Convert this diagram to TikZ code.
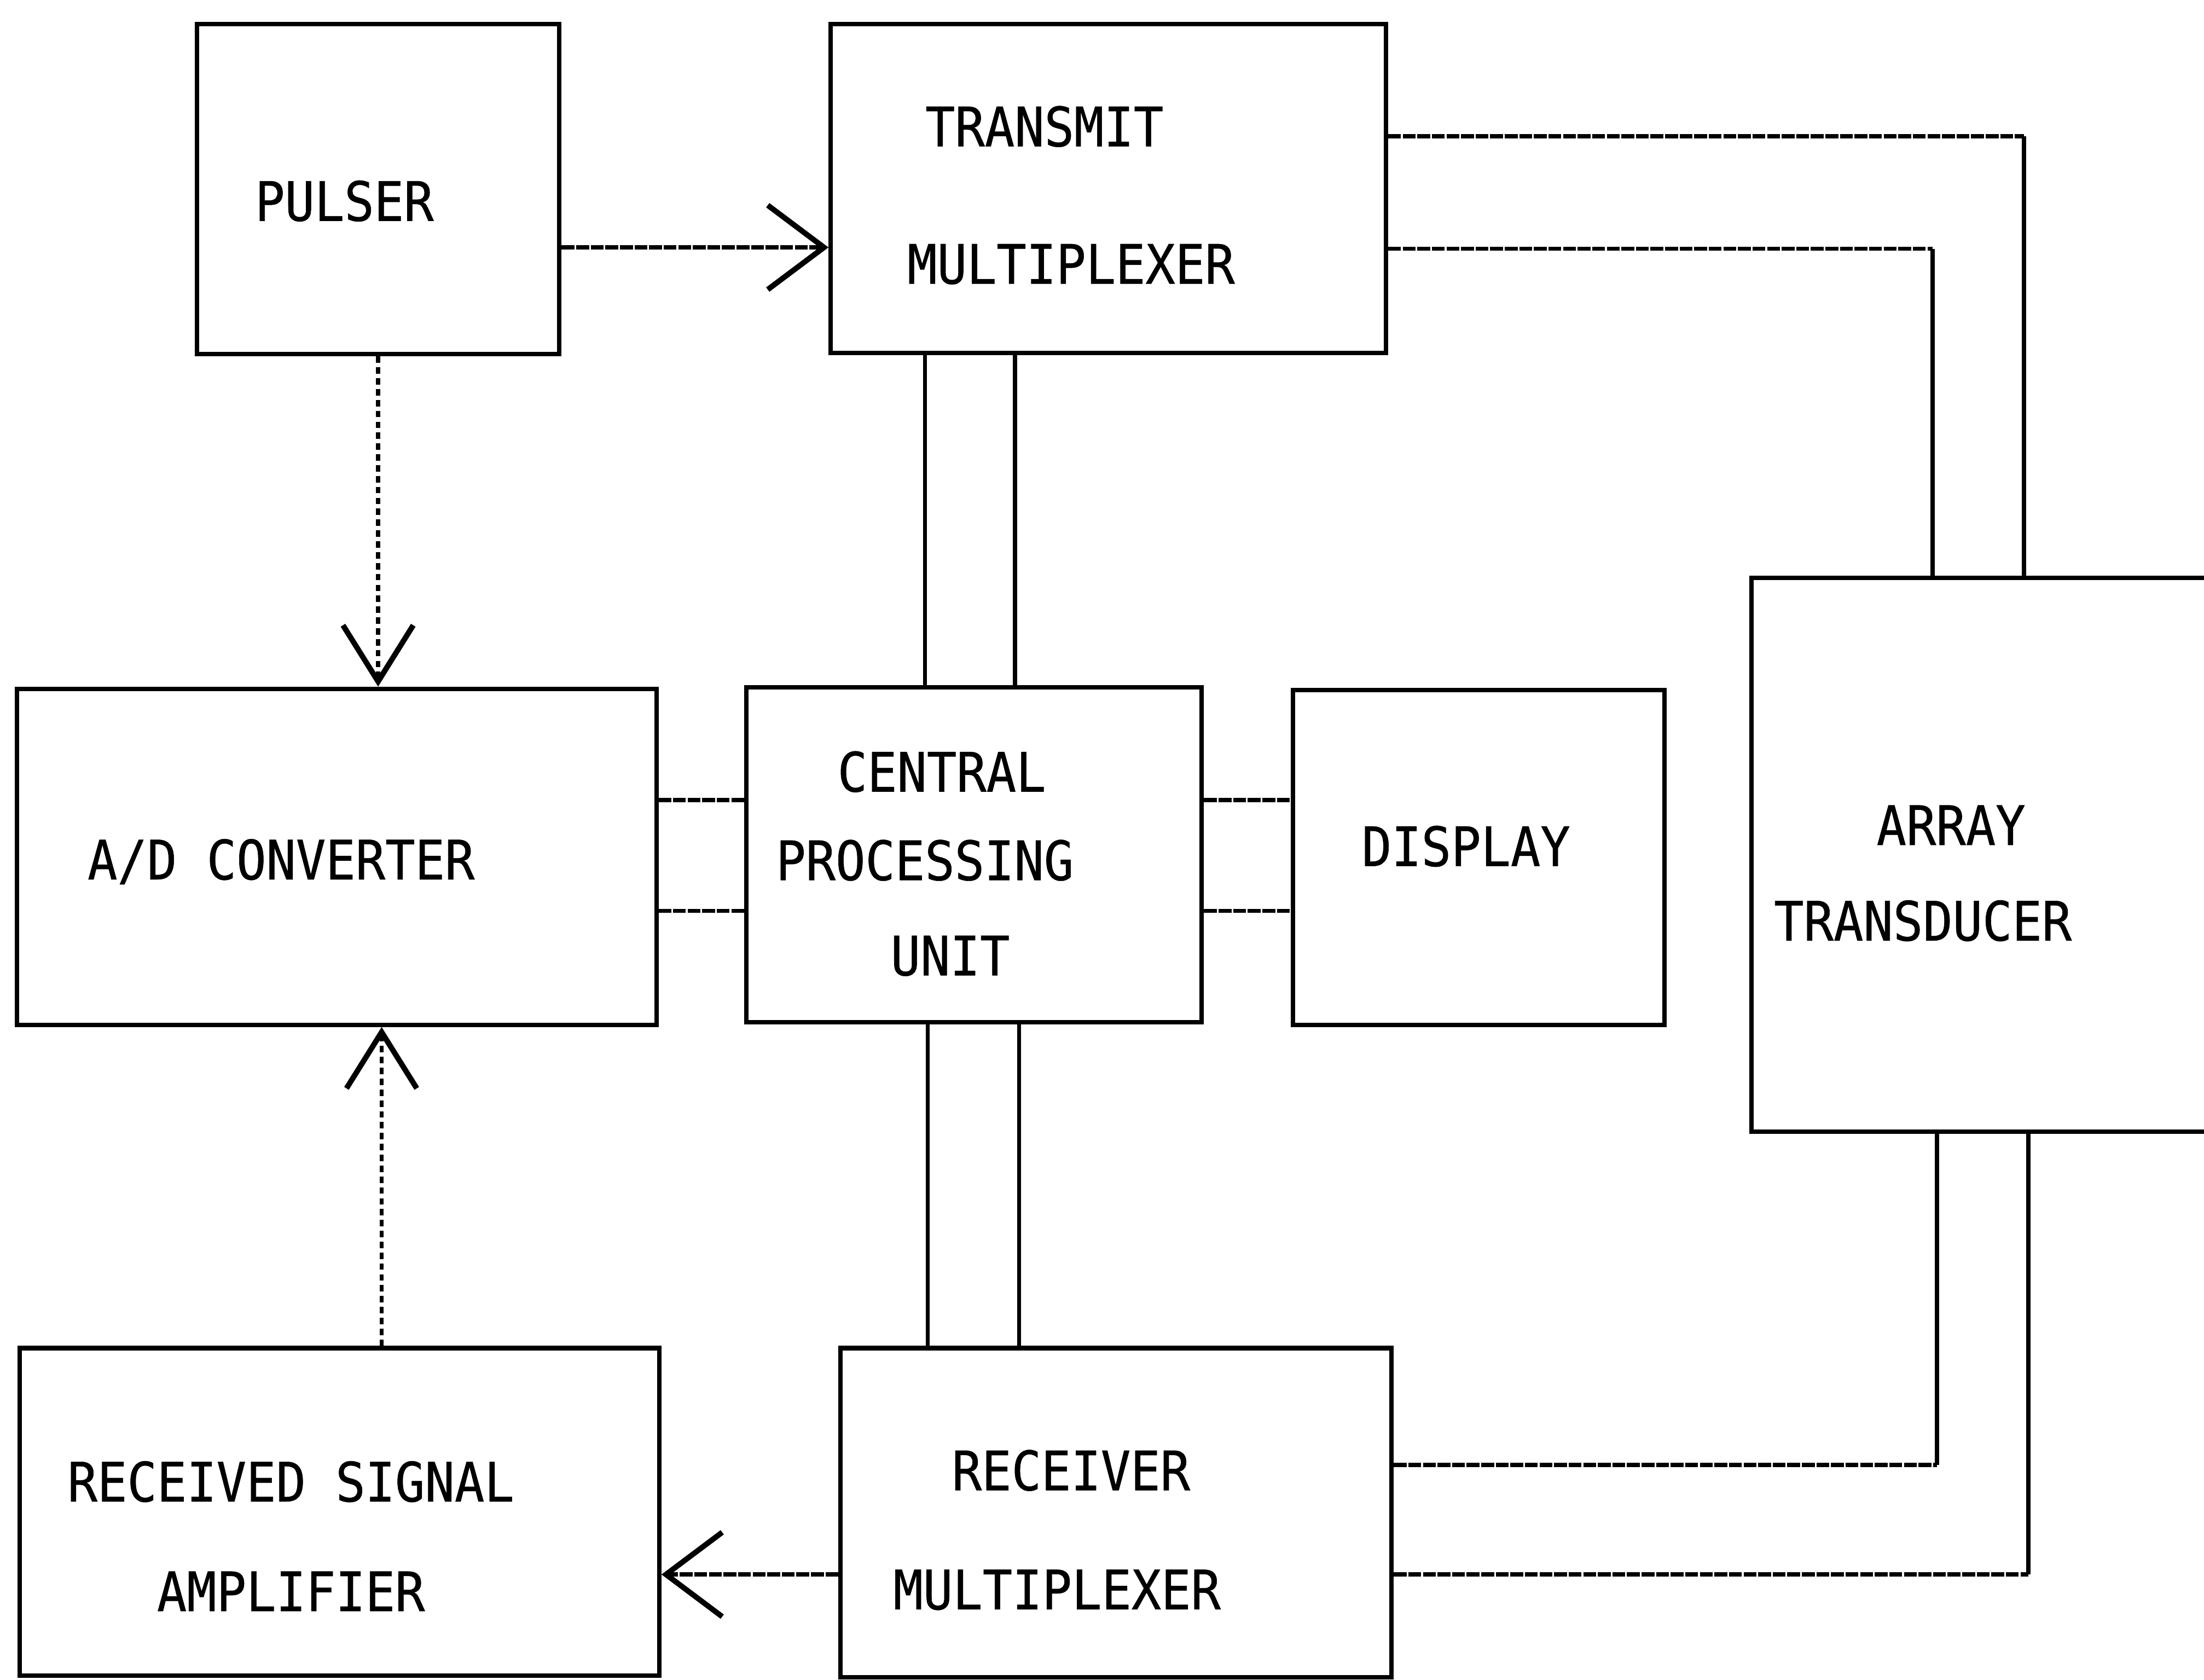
\documentclass[tikz,border=0pt]{standalone}
\usepackage{fontspec}
\newfontfamily\plotfont{DejaVu Sans Mono}[FakeStretch=0.91,FakeBold=0.6]
\usetikzlibrary{arrows.meta,positioning}

\begin{document}
\begin{tikzpicture}[
    box/.style={
        rectangle,
        draw=black,
        line width=0.9pt,
        inner sep=0pt
    },
    txt/.style={
        inner sep=0pt,
        font={\plotfont\fontsize{11}{13}\selectfont}
    },
    wire/.style={line width=0.85pt},
    hwire/.style={wire, dash pattern=on 2.6pt off 0.35pt},
    arrow/.style={hwire, -{Straight Barb[length=4mm,width=6mm,line width=1.1pt]}},
    dotarrow/.style={wire, dash pattern=on 1.3pt off 0.9pt, -{Straight Barb[length=4mm,width=5mm,line width=1.1pt]}}
]

% Frame
\path[use as bounding box, clip] (0,0) rectangle (15.68,11.95);

% Blocks
\node[box, minimum width=2.58cm, minimum height=2.35cm] (pulser) at (2.69, 10.605) {};
\node[box, minimum width=3.95cm, minimum height=2.34cm] (tmux) at (7.885, 10.61) {};
\node[box, minimum width=4.55cm, minimum height=2.39cm] (adc) at (2.395, 5.855) {};
\node[box, minimum width=3.24cm, minimum height=2.38cm] (cpu) at (6.93, 5.87) {};
\node[box, minimum width=2.64cm, minimum height=2.38cm] (disp) at (10.52, 5.85) {};
\node[box, minimum width=3.74cm, minimum height=3.94cm] (array) at (14.33, 5.87) {};
\node[box, minimum width=4.55cm, minimum height=2.33cm] (rsa) at (2.415, 1.195) {};
\node[box, minimum width=3.92cm, minimum height=2.34cm] (rmux) at (7.94, 1.19) {};

% Block texts
\node[txt] (pulsertxt) at (2.45, 10.52) {PULSER};
\node[txt] (tmuxtxta) at (7.43, 11.05) {TRANSMIT};
\node[txt] (tmuxtxtb) at (7.62, 10.07) {MULTIPLEXER};
\node[txt] (adctxt) at (2.00, 5.82) {A/D CONVERTER};
\node[txt] (cputxta) at (6.70, 6.46) {CENTRAL};
\node[txt] (cputxtb) at (6.58, 5.83) {PROCESSING};
\node[txt] (cputxtc) at (6.76, 5.15) {UNIT};
\node[txt] (disptxt) at (10.43, 5.93) {DISPLAY};
\node[txt] (arraytxta) at (13.88, 6.08) {ARRAY};
\node[txt] (arraytxtb) at (13.68, 5.40) {TRANSDUCER};
\node[txt] (rsatxta) at (2.07, 1.41) {RECEIVED SIGNAL};
\node[txt] (rsatxtb) at (2.07, 0.63) {AMPLIFIER};
\node[txt] (rmuxtxta) at (7.62, 1.49) {RECEIVER};
\node[txt] (rmuxtxtb) at (7.52, 0.64) {MULTIPLEXER};

% Arrows - pulser
\draw[arrow] ([yshift=-4.15mm]pulser.east) -- ([yshift=-4.15mm]pulser.east -| tmux.west);
\draw[dotarrow] (pulser.south) -- (pulser.south |- adc.north);

% Arrows - receive path
\draw[dotarrow] ([xshift=3mm]rsa.north) -- ([xshift=3mm]rsa.north |- adc.south);
\draw[arrow] ([yshift=-4.4mm]rmux.west) -- ([yshift=-4.4mm]rmux.west -| rsa.east);

% Buses - CPU to multiplexers
\draw[wire] ([xshift=-3.5mm]cpu.north |- tmux.south) -- ([xshift=-3.5mm]cpu.north);
\draw[wire] ([xshift=2.9mm]cpu.north |- tmux.south) -- ([xshift=2.9mm]cpu.north);
\draw[wire] ([xshift=-3.3mm]cpu.south) -- ([xshift=-3.3mm]cpu.south |- rmux.north);
\draw[wire] ([xshift=3.2mm]cpu.south) -- ([xshift=3.2mm]cpu.south |- rmux.north);

% Buses - CPU to converter and display
\draw[hwire] ([yshift=3.9mm]cpu.west) -- ([yshift=3.9mm]cpu.west -| adc.east);
\draw[hwire] ([yshift=-4mm]cpu.west) -- ([yshift=-4mm]cpu.west -| adc.east);
\draw[hwire] ([yshift=3.9mm]cpu.east) -- ([yshift=3.9mm]cpu.east -| disp.west);
\draw[hwire] ([yshift=-4mm]cpu.east) -- ([yshift=-4mm]cpu.east -| disp.west);

% Lines - multiplexers to transducer (corners)
\path ([yshift=3.7mm]tmux.east) -| coordinate[pos=0.5] (ta) ([xshift=0.7mm]array.north);
\path ([yshift=-4.3mm]tmux.east) -| coordinate[pos=0.5] (tb) ([xshift=-5.8mm]array.north);
\path ([yshift=3.4mm]rmux.east) -| coordinate[pos=0.5] (ra) ([xshift=-5.5mm]array.south);
\path ([yshift=-4.4mm]rmux.east) -| coordinate[pos=0.5] (rb) ([xshift=1mm]array.south);

\draw[hwire] ([yshift=3.7mm]tmux.east) -- (ta);
\draw[wire] (ta) -- ([xshift=0.7mm]array.north);
\draw[hwire] ([yshift=-4.3mm]tmux.east) -- (tb);
\draw[wire] (tb) -- ([xshift=-5.8mm]array.north);
\draw[hwire] ([yshift=3.4mm]rmux.east) -- (ra);
\draw[wire] (ra) -- ([xshift=-5.5mm]array.south);
\draw[hwire] ([yshift=-4.4mm]rmux.east) -- (rb);
\draw[wire] (rb) -- ([xshift=1mm]array.south);

\end{tikzpicture}
\end{document}
